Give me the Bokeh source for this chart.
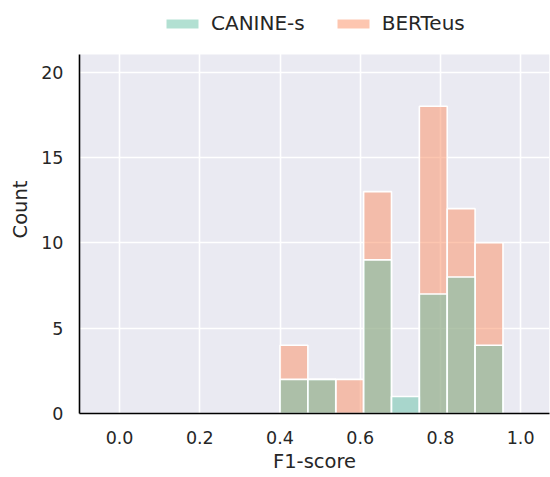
from bokeh.plotting import figure
from bokeh.models import (ColumnDataSource, Legend, LegendItem, Range1d, FixedTicker,
                          CustomJSTickFormatter, BoxAnnotation)
from bokeh.embed import file_html
from bokeh.resources import INLINE

# ---- data ----
bin_edges = [0.400, 0.4695, 0.539, 0.6085, 0.678, 0.7475, 0.817, 0.8865, 0.956]
canine_counts = [2, 2, 0, 9, 1, 7, 8, 4]
berteus_counts = [4, 2, 2, 13, 0, 18, 12, 10]
series_names = ["CANINE-s", "BERTeus"]
series_colors = ["#66c2a5", "#fc8d62"]
x_ticks = [0.0, 0.2, 0.4, 0.6, 0.8, 1.0]
y_ticks = [0, 5, 10, 15, 20]
y_max = 21.03

FONT = "DejaVu Sans"

def make_source(counts):
    lefts = bin_edges[:-1]
    rights = bin_edges[1:]
    keep = [i for i, c in enumerate(counts) if c > 0]
    return ColumnDataSource(dict(
        left=[lefts[i] for i in keep],
        right=[rights[i] for i in keep],
        top=[counts[i] for i in keep],
    ))

# frame spans canvas y 5..413; axes area (grey) spans 54..413
frame_top, axes_top, axes_bottom = 5, 54, 413
y_view_top = y_max * (axes_bottom - frame_top) / (axes_bottom - axes_top)

p = figure(width=550, height=477, output_backend="svg", toolbar_location=None,
           x_range=Range1d(-0.1, 1.072), y_range=Range1d(0, y_view_top),
           min_border_left=79, min_border_right=1, min_border_top=frame_top,
           min_border_bottom=477 - axes_bottom)

p.background_fill_color = "white"
p.border_fill_color = "white"
p.outline_line_color = None

bg = BoxAnnotation(bottom=0, top=y_max, fill_color="#eaeaf2", fill_alpha=1.0,
                   line_color=None, level="image", propagate_hover=False)
p.add_layout(bg)

r_bert = p.quad(left="left", right="right", bottom=0, top="top", source=make_source(berteus_counts),
                fill_color=series_colors[1], fill_alpha=0.5, line_color="white", line_width=1.6)
r_can = p.quad(left="left", right="right", bottom=0, top="top", source=make_source(canine_counts),
               fill_color=series_colors[0], fill_alpha=0.5, line_color="white", line_width=1.6)

for g in (p.xgrid, p.ygrid):
    g.grid_line_color = "white"
    g.grid_line_width = 1.6
p.xgrid.bounds = (0, y_max)
p.xaxis.ticker = FixedTicker(ticks=x_ticks)
p.yaxis.ticker = FixedTicker(ticks=y_ticks)
p.xgrid.ticker = FixedTicker(ticks=x_ticks)
p.ygrid.ticker = FixedTicker(ticks=y_ticks)
p.yaxis.bounds = (0, y_max)

for ax in (p.xaxis, p.yaxis):
    ax.axis_line_color = "black"
    ax.axis_line_width = 1.6
    ax.major_tick_in = 0
    ax.major_tick_out = 0
    ax.minor_tick_line_color = None
    ax.major_label_text_font = FONT
    ax.major_label_text_font_size = "17.5px"
    ax.major_label_text_color = "#262626"
    ax.axis_label_text_font = FONT
    ax.axis_label_text_font_size = "19.5px"
    ax.axis_label_text_font_style = "normal"
    ax.axis_label_text_color = "#262626"

p.xaxis.formatter = CustomJSTickFormatter(code="return tick.toFixed(1);")
p.xaxis.axis_label = "F1-score"
p.yaxis.axis_label = "Count"
p.xaxis.major_label_standoff = 17
p.yaxis.major_label_standoff = 16
p.xaxis.axis_label_standoff = 3
p.yaxis.axis_label_standoff = 6

legend = Legend(items=[LegendItem(label=series_names[0], renderers=[r_can]),
                       LegendItem(label=series_names[1], renderers=[r_bert])],
                orientation="horizontal", location=(82, axes_bottom - 35),
                padding=0, margin=0, spacing=27, label_standoff=8,
                glyph_width=42, glyph_height=13, label_height=20,
                label_text_font=FONT, label_text_font_size="20px", label_text_color="#262626",
                border_line_color=None, background_fill_alpha=0)
p.add_layout(legend, "center")

open("out.html", "w").write(file_html(p, INLINE))
